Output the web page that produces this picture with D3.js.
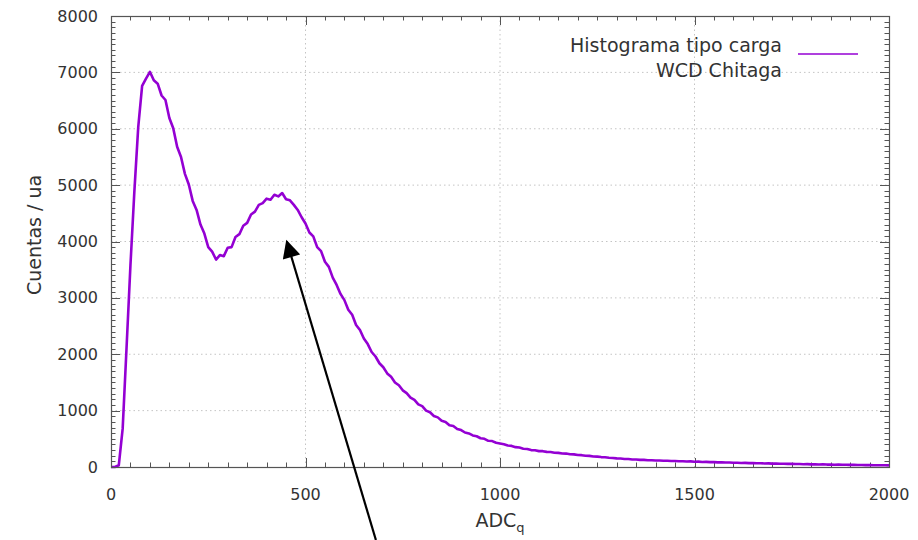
<!DOCTYPE html>
<html>
<head>
<meta charset="utf-8">
<script src="https://cdn.jsdelivr.net/npm/d3@7"></script>
<style>
  html, body { margin: 0; padding: 0; background: #fff; }
  svg { display: block; }
  text { font-family: "DejaVu Sans", sans-serif; }
</style>
</head>
<body>
<svg id="chart" width="918" height="540"></svg>
<script>
// ---- data ----
const binWidth = 10;           // ADC bin spacing of the listed counts
// counts for ADC 0 .. 1000 (step 10)
const countsLow = [
  0, 0, 30, 680, 2120, 3580, 4880, 6030, 6760, 6890,
  7010, 6860, 6800, 6590, 6510, 6190, 6010, 5680, 5500, 5200,
  5010, 4720, 4560, 4300, 4140, 3900, 3820, 3680, 3760, 3740,
  3890, 3900, 4080, 4130, 4280, 4330, 4480, 4530, 4650, 4680,
  4760, 4740, 4830, 4800, 4860, 4750, 4730, 4650, 4560, 4430,
  4320, 4160, 4090, 3900, 3830, 3640, 3550, 3360, 3230, 3070,
  2960, 2790, 2700, 2520, 2430, 2280, 2180, 2040, 1960, 1840,
  1770, 1660, 1600, 1500, 1450, 1360, 1310, 1230, 1190, 1110,
  1080, 1000, 970, 905, 880, 820, 800, 740, 728, 675,
  655, 612, 596, 560, 545, 510, 500, 465, 460, 430,
  418
];
// counts for ADC 1010 .. 2000 (step 10)
const countsTail = [
  405, 382, 374, 352, 345, 324, 318, 300, 296, 282,
  281, 268, 265, 252, 250, 240, 238, 226, 224, 212,
  210, 199, 197, 187, 184, 176, 173, 164, 161, 153,
  151, 143, 141, 134, 133, 126, 126, 120, 120, 114,
  115, 110, 111, 106, 107, 102, 103, 98, 99, 94,
  95, 90, 91, 86, 87, 82, 83, 79, 80, 75,
  76, 72, 73, 69, 70, 66, 67, 63, 64, 60,
  61, 57, 58, 55, 56, 52, 53, 50, 51, 47,
  48, 45, 46, 43, 44, 41, 42, 39, 40, 37,
  38, 35, 36, 33, 34, 31, 32, 30, 31, 28
];
const xTicks = [0, 500, 1000, 1500, 2000];
const yTicks = [0, 1000, 2000, 3000, 4000, 5000, 6000, 7000, 8000];
const legendLines = ["Histograma tipo carga", "WCD Chitaga"];
const yLabel = "Cuentas / ua";
const xLabelMain = "ADC";
const xLabelSub = "q";
const arrowTail = [681, -1295];   // annotation arrow tail (data coords)
const arrowHead = [452, 4000];    // annotation arrow head (data coords)

// ---- layout ----
const L = 111, R = 889, T = 16, B = 467;
const svg = d3.select("#chart");
const x = d3.scaleLinear().domain([0, 2000]).range([L, R]);
const y = d3.scaleLinear().domain([0, 8000]).range([B, T]);

const counts = countsLow.concat(countsTail);
const data = counts.map((c, i) => ({ adc: i * binWidth, c }));

// grid
const grid = svg.append("g").attr("stroke", "#c4c4c4").attr("stroke-width", 1).attr("stroke-dasharray", "1.5,3");
xTicks.filter(v => v > 0 && v < 2000).forEach(v => {
  grid.append("line").attr("x1", x(v)).attr("x2", x(v)).attr("y1", T).attr("y2", B);
});
yTicks.filter(v => v > 0 && v < 8000).forEach(v => {
  grid.append("line").attr("x1", L).attr("x2", R).attr("y1", y(v)).attr("y2", y(v));
});

// ticks (all four sides, inward)
const tk = svg.append("g").attr("stroke", "#555").attr("stroke-width", 1);
d3.range(0, 2001, 50).forEach(v => {
  const len = (v % 500 === 0) ? 9 : 4.5;
  const xx = Math.round(x(v)) + 0.5;
  tk.append("line").attr("x1", xx).attr("x2", xx).attr("y1", B).attr("y2", B - len);
  tk.append("line").attr("x1", xx).attr("x2", xx).attr("y1", T).attr("y2", T + len);
});
d3.range(0, 8001, 100).forEach(v => {
  const len = (v % 1000 === 0) ? 9 : 4.5;
  const yy = Math.round(y(v)) + 0.5;
  tk.append("line").attr("x1", L).attr("x2", L + len).attr("y1", yy).attr("y2", yy);
  tk.append("line").attr("x1", R).attr("x2", R - len).attr("y1", yy).attr("y2", yy);
});

// tick labels
svg.append("g").selectAll("text").data(xTicks).join("text")
  .attr("x", d => x(d)).attr("y", 500)
  .attr("text-anchor", "middle").attr("font-size", 16).attr("fill", "#333")
  .text(d => d);
svg.append("g").selectAll("text").data(yTicks).join("text")
  .attr("x", 98).attr("y", d => y(d)).attr("dy", "0.35em")
  .attr("text-anchor", "end").attr("font-size", 16).attr("fill", "#333")
  .text(d => d);

// axis labels
svg.append("text")
  .attr("transform", `translate(34,235) rotate(-90)`)
  .attr("text-anchor", "middle").attr("dy", "0.35em").attr("font-size", 19).attr("fill", "#333")
  .text(yLabel);
const xl = svg.append("text").attr("x", 500).attr("y", 527)
  .attr("text-anchor", "middle").attr("font-size", 19).attr("fill", "#333");
xl.append("tspan").text(xLabelMain);
xl.append("tspan").attr("font-size", 13).attr("dy", 5).text(xLabelSub);

// data line
const line = d3.line().x(d => x(d.adc)).y(d => y(d.c));
svg.append("path").datum(data)
  .attr("fill", "none").attr("stroke", "#9400d3").attr("stroke-width", 2.6)
  .attr("stroke-linejoin", "round")
  .attr("d", line);

// frame
svg.append("rect").attr("x", L + 0.5).attr("y", T + 0.5)
  .attr("width", R - L).attr("height", B - T)
  .attr("fill", "none").attr("stroke", "#555").attr("stroke-width", 1.2);

// legend
const lg = svg.append("g");
lg.selectAll("text").data(legendLines).join("text")
  .attr("x", 782).attr("y", (d, i) => 52 + i * 25)
  .attr("text-anchor", "end").attr("font-size", 19).attr("fill", "#333")
  .text(d => d);
lg.append("line").attr("x1", 798).attr("x2", 858).attr("y1", 54).attr("y2", 54)
  .attr("stroke", "#9400d3").attr("stroke-width", 1.5);

// annotation arrow
svg.append("defs").append("marker")
  .attr("id", "ah").attr("viewBox", "0 0 10 10").attr("refX", 9).attr("refY", 5)
  .attr("markerWidth", 22).attr("markerHeight", 18).attr("markerUnits", "userSpaceOnUse")
  .attr("orient", "auto")
  .append("path").attr("d", "M0,0 L10,5 L0,10 z").attr("fill", "#000");
svg.append("line")
  .attr("x1", x(arrowTail[0])).attr("y1", y(arrowTail[1]))
  .attr("x2", x(arrowHead[0])).attr("y2", y(arrowHead[1]))
  .attr("stroke", "#000").attr("stroke-width", 2.2)
  .attr("marker-end", "url(#ah)");
</script>
</body>
</html>
